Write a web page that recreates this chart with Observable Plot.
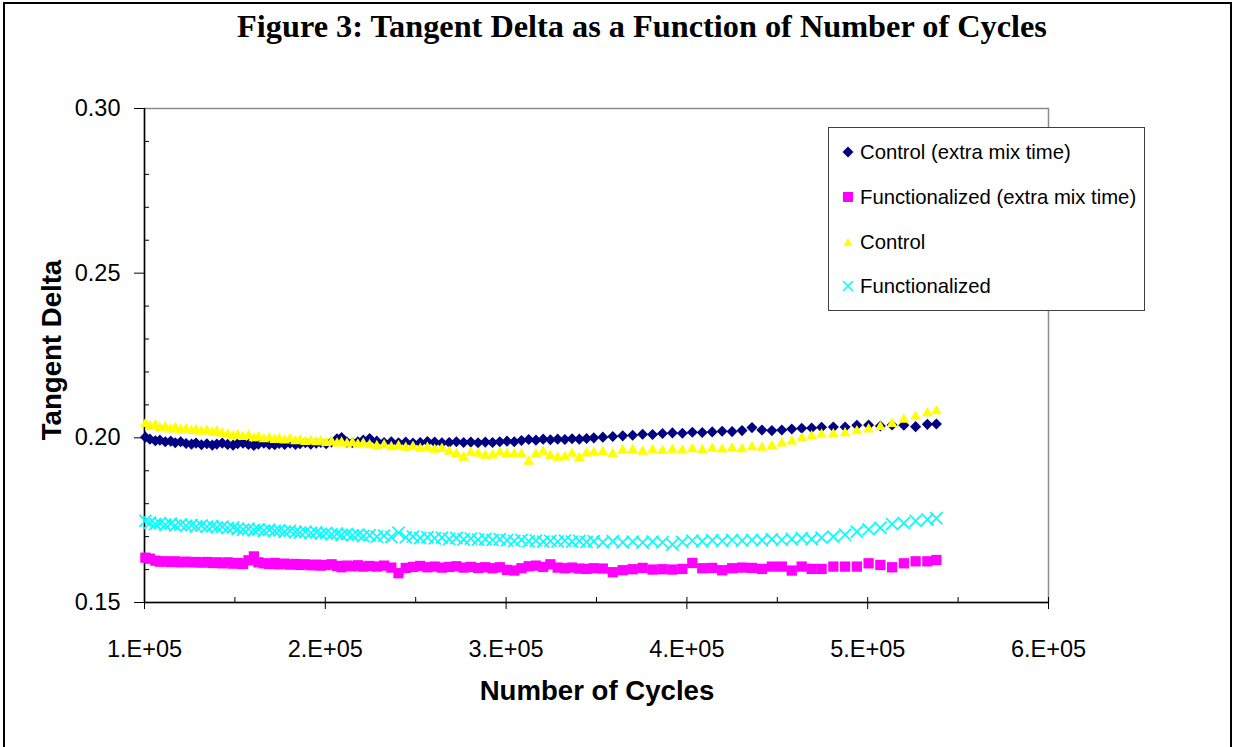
<!DOCTYPE html>
<html>
<head>
<meta charset="utf-8">
<script src="https://cdn.jsdelivr.net/npm/d3@7"></script>
<script src="https://cdn.jsdelivr.net/npm/@observablehq/plot@0.6"></script>
<style>
  html, body { margin: 0; padding: 0; background: #fff; overflow: hidden; }
  #wrap { position: relative; width: 1233px; height: 747px; overflow: hidden; background: #fff; }
  #wrap > svg { position: absolute; left: 0; top: 0; }
  .outer { position: absolute; left: 3px; top: 2px; width: 1225px; height: 800px; border: 2px solid #000; box-sizing: content-box; }
  .title { position: absolute; left: 642px; top: 10px; transform: translateX(-50%); white-space: nowrap;
           font-family: "Liberation Serif", "Times New Roman", serif; font-weight: bold; font-size: 32.3px; line-height: 1; color: #000; }
  .axt { position: absolute; white-space: nowrap; font-family: "Liberation Sans", Arial, sans-serif; font-weight: bold;
         font-size: 27.6px; line-height: 1; color: #000; }
  .legend { position: absolute; left: 828px; top: 127px; width: 315px; height: 182px; border: 1px solid #404040; background: #fff; }
  .lrow { position: absolute; left: 0; width: 300px; height: 24px; line-height: 24px; font-family: "Liberation Sans", Arial, sans-serif;
          font-size: 20.3px; color: #000; white-space: nowrap; }
  .lrow svg { position: absolute; left: 11px; top: 4px; }
  .lrow span { position: absolute; left: 31px; top: 0; }
</style>
</head>
<body>
<div id="wrap">
  <div class="outer"></div>
  <div class="title">Figure 3: Tangent Delta as a Function of Number of Cycles</div>
</div>
<script>
// Number of cycles (thousands)
const cyclesK = [
  100.5, 103, 106, 108.5, 111.5, 114.5, 117, 120, 123, 126, 128.5, 131.5, 134.5, 137.5, 140, 143, 146, 149, 151.5, 154.5,
  157.5, 160.5, 163, 166, 169, 172, 174.5, 177.5, 180.5, 183.5, 186, 189, 192, 195, 197.5, 200.5, 203.5, 206.5, 209, 212,
  215, 218, 221,
  224.5, 228.5, 232.5, 236.5, 240.5, 244.5, 248.5, 252.5, 256.5, 260.5, 264.5, 268.5, 272.5, 276.5, 280.5, 284.5, 288.5,
  292.5, 296.5, 300.5, 304.5, 308.5, 312.5, 316.5, 320.5, 324.5, 328.5, 332.5, 336.5, 340.5, 344.5, 348.5,
  353.5, 359, 364.5, 370, 375.5, 381, 386.5, 392, 397.5, 403, 408.5, 414, 419.5, 425, 430.5, 436, 441.5, 447, 452.5, 458,
  463.5, 469, 474.5,
  481, 487.5, 494, 500.5, 507, 513.5, 520, 526.5, 533, 538
];

const controlExtra = [
  0.2002, 0.1996, 0.1991, 0.1993, 0.1988, 0.1990, 0.1985, 0.1988, 0.1983, 0.1981,
  0.1984, 0.1979, 0.1982, 0.1978, 0.1981, 0.1984, 0.1980, 0.1978, 0.1982, 0.1984,
  0.1980, 0.1977, 0.1981, 0.1984, 0.1980, 0.1979, 0.1983, 0.1980, 0.1984, 0.1980,
  0.1982, 0.1985, 0.1981, 0.1984, 0.1986, 0.1982, 0.1987, 0.1997, 0.2001, 0.1987,
  0.1985, 0.1988, 0.1993,
  0.1998, 0.1990, 0.1986, 0.1988, 0.1985, 0.1987, 0.1984, 0.1986, 0.1989, 0.1987,
  0.1985, 0.1986, 0.1988, 0.1986, 0.1987, 0.1985, 0.1987, 0.1986, 0.1988, 0.1990,
  0.1988, 0.1992, 0.1995, 0.1993, 0.1996, 0.1994, 0.1996, 0.1995, 0.1997, 0.1996,
  0.1998, 0.2000,
  0.2002, 0.2004, 0.2006, 0.2008, 0.2011, 0.2010, 0.2013, 0.2015, 0.2014, 0.2017,
  0.2016, 0.2018, 0.2020, 0.2019, 0.2022, 0.2031, 0.2024, 0.2022, 0.2024, 0.2027,
  0.2029, 0.2030, 0.2032,
  0.2033, 0.2033, 0.2038, 0.2039, 0.2036, 0.2039, 0.2038, 0.2034, 0.2041, 0.2042
];

const functionalizedExtra = [
  0.1636, 0.1633, 0.1627, 0.1624, 0.1625, 0.1623, 0.1625, 0.1622, 0.1624, 0.1622,
  0.1623, 0.1621, 0.1623, 0.1620, 0.1622, 0.1619, 0.1622, 0.1618, 0.1620, 0.1617,
  0.1628, 0.1640, 0.1622, 0.1619, 0.1617, 0.1620, 0.1616, 0.1618, 0.1615, 0.1617,
  0.1614, 0.1616, 0.1613, 0.1615, 0.1612, 0.1614, 0.1616, 0.1611, 0.1607, 0.1612,
  0.1610, 0.1613, 0.1609,
  0.1611, 0.1609, 0.1612, 0.1606, 0.1589, 0.1605, 0.1608, 0.1611, 0.1607, 0.1609,
  0.1606, 0.1608, 0.1610, 0.1606, 0.1608, 0.1605, 0.1607, 0.1604, 0.1607, 0.1599,
  0.1597, 0.1604, 0.1610, 0.1612, 0.1608, 0.1616, 0.1606, 0.1604, 0.1606, 0.1603,
  0.1602, 0.1604,
  0.1603, 0.1592, 0.1598, 0.1601, 0.1605, 0.1600, 0.1601, 0.1600, 0.1602, 0.1620,
  0.1604, 0.1605, 0.1598, 0.1604, 0.1606, 0.1605, 0.1602, 0.1609, 0.1609, 0.1597,
  0.1609, 0.1602, 0.1602,
  0.1609, 0.1609, 0.1609, 0.1619, 0.1614, 0.1607, 0.1619, 0.1625, 0.1625, 0.1629
];

const control = [
  0.2042, 0.2035, 0.2038, 0.2030, 0.2033, 0.2026, 0.2030, 0.2024, 0.2027, 0.2021,
  0.2024, 0.2019, 0.2022, 0.2016, 0.2019, 0.2013, 0.2010, 0.2006, 0.2009, 0.2003,
  0.2006, 0.1999, 0.2002, 0.1996, 0.1999, 0.1994, 0.1997, 0.1992, 0.1996, 0.1990,
  0.1993, 0.1988, 0.1991, 0.1987, 0.1990, 0.1985, 0.1988, 0.1983, 0.1986, 0.1982,
  0.1985, 0.1980, 0.1983,
  0.1978, 0.1975, 0.1978, 0.1972, 0.1975, 0.1970, 0.1973, 0.1967, 0.1970, 0.1964,
  0.1967, 0.1958, 0.1951, 0.1940, 0.1955, 0.1952, 0.1946, 0.1947, 0.1955, 0.1951,
  0.1950, 0.1950, 0.1928, 0.1950, 0.1958, 0.1945, 0.1940, 0.1941, 0.1952, 0.1939,
  0.1953, 0.1955,
  0.1957, 0.1951, 0.1962, 0.1963, 0.1958, 0.1963, 0.1961, 0.1964, 0.1962, 0.1966,
  0.1963, 0.1967, 0.1965, 0.1968, 0.1966, 0.1972, 0.1970, 0.1975, 0.1983, 0.1989,
  0.1998, 0.2005, 0.2010,
  0.2011, 0.2014, 0.2020, 0.2026, 0.2033, 0.2042, 0.2055, 0.2064, 0.2075, 0.2081
];

const functionalized = [
  0.1748, 0.1742, 0.1738, 0.1741, 0.1736, 0.1739, 0.1734, 0.1737, 0.1733, 0.1735,
  0.1731, 0.1734, 0.1730, 0.1732, 0.1728, 0.1730, 0.1726, 0.1728, 0.1723, 0.1721,
  0.1724, 0.1720, 0.1722, 0.1718, 0.1721, 0.1717, 0.1719, 0.1715, 0.1718, 0.1714,
  0.1712, 0.1715, 0.1711, 0.1713, 0.1709, 0.1711, 0.1707, 0.1709, 0.1705, 0.1708,
  0.1704, 0.1706, 0.1702,
  0.1704, 0.1700, 0.1703, 0.1699, 0.1712, 0.1698, 0.1700, 0.1696, 0.1698, 0.1695,
  0.1697, 0.1693, 0.1696, 0.1692, 0.1694, 0.1691, 0.1693, 0.1690, 0.1692, 0.1689,
  0.1687, 0.1690, 0.1686, 0.1688, 0.1685, 0.1687, 0.1685, 0.1688, 0.1685, 0.1687,
  0.1684, 0.1686,
  0.1683, 0.1686, 0.1683, 0.1685, 0.1682, 0.1685, 0.1683, 0.1676, 0.1684, 0.1688,
  0.1686, 0.1689, 0.1687, 0.1690, 0.1688, 0.1690, 0.1689, 0.1692, 0.1690, 0.1693,
  0.1695, 0.1693, 0.1697,
  0.1700, 0.1706, 0.1715, 0.1722, 0.1727, 0.1738, 0.1741, 0.1748, 0.1752, 0.1756
];

const seriesNames = ["Control (extra mix time)", "Functionalized (extra mix time)", "Control", "Functionalized"];
const xMajorTicks = [1e5, 2e5, 3e5, 4e5, 5e5, 6e5];
const xAllTicks = [1e5, 1.5e5, 2e5, 2.5e5, 3e5, 3.5e5, 4e5, 4.5e5, 5e5, 5.5e5, 6e5];
const yMajorTicks = [0.15, 0.20, 0.25, 0.30];
const yMinorTicks = [0.16, 0.17, 0.18, 0.19, 0.21, 0.22, 0.23, 0.24, 0.26, 0.27, 0.28, 0.29];

const rows = (vals) => cyclesK.map((c, i) => ({cycles: c * 1000, td: vals[i]}));

const chart = Plot.plot({
  width: 1233,
  height: 747,
  marginTop: 108,
  marginRight: 185,
  marginBottom: 145,
  marginLeft: 144,
  style: {fontFamily: "'Liberation Sans', Arial, sans-serif", fontSize: "23px", color: "#000", background: "transparent", overflow: "visible"},
  x: {domain: [1e5, 6e5], label: null},
  y: {domain: [0.15, 0.30], label: null},
  marks: [
    Plot.frame({stroke: "#8c8c8c", strokeWidth: 1.5}),
    Plot.ruleX([1e5], {stroke: "#000", strokeWidth: 1.5}),
    Plot.ruleY([0.15], {stroke: "#000", strokeWidth: 1.5}),
    Plot.axisY(yMajorTicks, {tickSize: 10, tickPadding: 14, tickFormat: d3.format(".2f"), fontSize: 23.5, label: null}),
    Plot.axisY(yMinorTicks, {tickSize: -5, fill: "none", label: null}),
    Plot.axisX(xMajorTicks, {tickSize: 7, tickPadding: 31, tickFormat: d => `${Math.round(d / 1e5)}.E+05`, fontSize: 23.5, label: null}),
    Plot.axisX(xAllTicks, {tickSize: -5, fill: "none", label: null}),
    Plot.dot(rows(controlExtra), {x: "cycles", y: "td", symbol: "diamond2", fill: "#000080", stroke: "none", r: 5}),
    Plot.dot(rows(functionalizedExtra), {x: "cycles", y: "td", symbol: "square", fill: "#ff00ff", stroke: "none", r: 5.8}),
    Plot.dot(rows(control), {x: "cycles", y: "td", symbol: "triangle", fill: "#ffff00", stroke: "none", r: 4}),
    Plot.dot(rows(functionalized), {x: "cycles", y: "td", symbol: "times", stroke: "#00ffff", fill: "none", strokeWidth: 1.7, r: 5.6})
  ]
});

const wrap = document.getElementById("wrap");
wrap.appendChild(chart);

// Axis titles
const yt = document.createElement("div");
yt.className = "axt";
yt.textContent = "Tangent Delta";
yt.style.left = "52px";
yt.style.top = "350px";
yt.style.transform = "translate(-50%, -50%) rotate(-90deg)";
wrap.appendChild(yt);

const xt = document.createElement("div");
xt.className = "axt";
xt.textContent = "Number of Cycles";
xt.style.left = "597px";
xt.style.top = "677px";
xt.style.transform = "translateX(-50%)";
wrap.appendChild(xt);

// Legend
const icons = [
  '<svg width="16" height="16" viewBox="0 0 16 16"><polygon points="8,2.5 13.5,8 8,13.5 2.5,8" fill="#000080"/></svg>',
  '<svg width="16" height="16" viewBox="0 0 16 16"><rect x="3" y="3" width="10" height="10" fill="#ff00ff"/></svg>',
  '<svg width="16" height="16" viewBox="0 0 16 16"><polygon points="8,4 12.5,12 3.5,12" fill="#ffff00"/></svg>',
  '<svg width="16" height="16" viewBox="0 0 16 16"><path d="M3,3L13,13M13,3L3,13" stroke="#00ffff" stroke-width="1.6" fill="none"/></svg>'
];
const rowCenters = [24, 69, 114, 158];
const legend = document.createElement("div");
legend.className = "legend";
seriesNames.forEach((name, i) => {
  const r = document.createElement("div");
  r.className = "lrow";
  r.style.top = (rowCenters[i] - 12) + "px";
  r.innerHTML = icons[i] + "<span></span>";
  r.querySelector("span").textContent = name;
  legend.appendChild(r);
});
wrap.appendChild(legend);
</script>
</body>
</html>
